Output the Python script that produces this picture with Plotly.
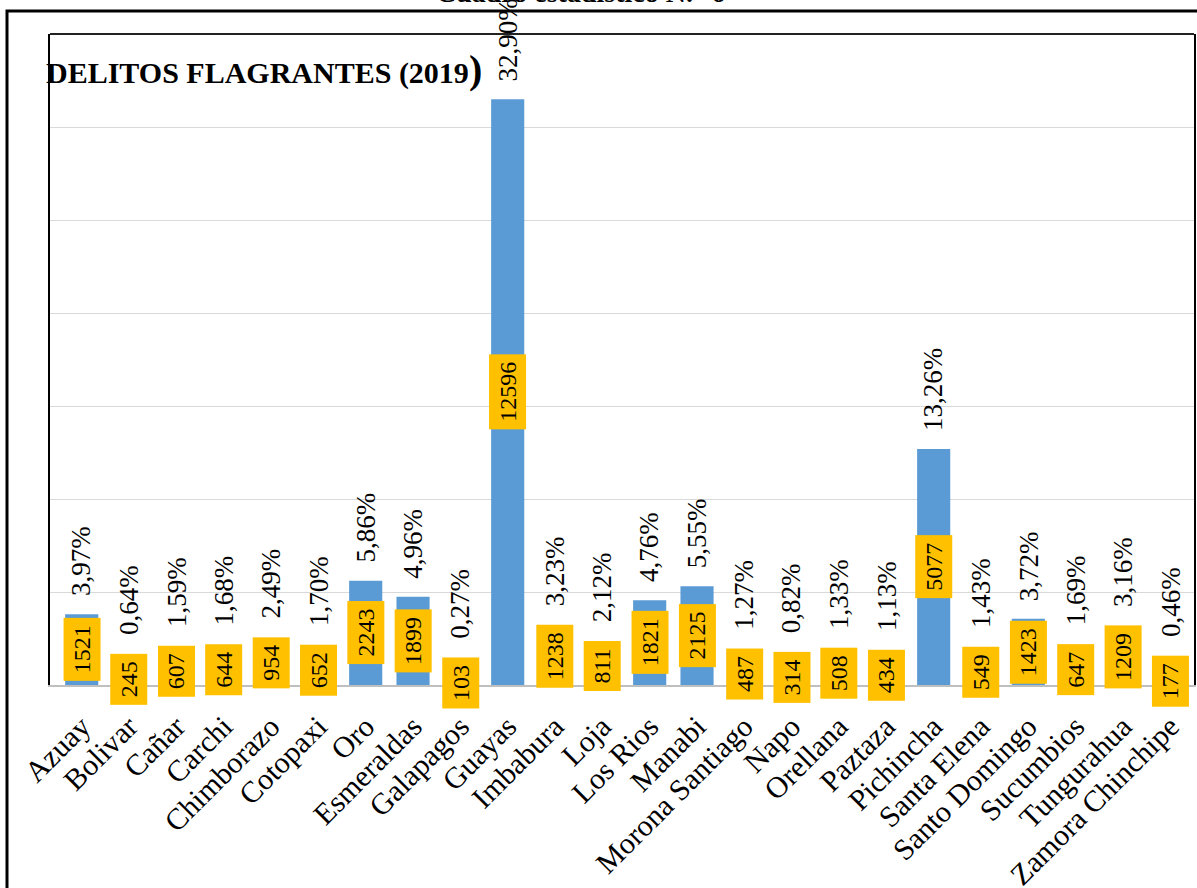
import plotly.graph_objects as go

provincias = [
    "Azuay", "Bolivar", "Cañar", "Carchi", "Chimborazo", "Cotopaxi", "Oro",
    "Esmeraldas", "Galapagos", "Guayas", "Imbabura", "Loja", "Los Rios",
    "Manabi", "Morona Santiago", "Napo", "Orellana", "Paztaza", "Pichincha",
    "Santa Elena", "Santo Domingo", "Sucumbios", "Tungurahua", "Zamora Chinchipe",
]
delitos = [
    1521, 245, 607, 644, 954, 652, 2243, 1899, 103, 12596, 1238, 811, 1821,
    2125, 487, 314, 508, 434, 5077, 549, 1423, 647, 1209, 177,
]
porcentajes = [
    "3,97%", "0,64%", "1,59%", "1,68%", "2,49%", "1,70%", "5,86%", "4,96%",
    "0,27%", "32,90%", "3,23%", "2,12%", "4,76%", "5,55%", "1,27%", "0,82%",
    "1,33%", "1,13%", "13,26%", "1,43%", "3,72%", "1,69%", "3,16%", "0,46%",
]
titulo = "DELITOS FLAGRANTES (2019"
encabezado = "Cuadro estadístico N.° 6"

# page geometry (px)
W, H = 1197, 888
L, R, T, B = 50, 3, 34, 203
PW, PH = W - L - R, H - T - B
Y_MAX = 14000
SERIF = "Liberation Serif, Times New Roman, serif"
AZUL = "#5B9BD5"
AMARILLO = "#FFC000"


def px_x(px):
    return (px - L) / PW


def px_y(px):
    return 1 - (px - T) / PH


fig = go.Figure(
    go.Bar(
        x=provincias,
        y=delitos,
        marker=dict(color=AZUL, line=dict(width=0)),
        width=0.7,
        hoverinfo="skip",
    )
)

unit_px = PH / Y_MAX
digit_px = 11.5
box_pad = 9
annotations = []
for prov, val, pct in zip(provincias, delitos, porcentajes):
    # yellow value box centred on the bar
    annotations.append(dict(
        x=prov, y=val / 2, text=str(val), textangle=-90, showarrow=False,
        font=dict(family=SERIF, size=24, color="black"),
        bgcolor=AMARILLO, borderpad=7, height=22,
        xanchor="center", yanchor="middle",
    ))
    # percentage label above bar (pushed up when the box sticks out)
    h = val * unit_px
    box_top = h / 2 + (len(str(val)) * digit_px + 2 * box_pad) / 2
    shift = 16 + max(0, box_top - h)
    annotations.append(dict(
        x=prov, y=val, text=pct, textangle=-90, showarrow=False,
        font=dict(family=SERIF, size=27, color="black"),
        xanchor="center", yanchor="bottom", yshift=shift,
    ))

annotations.append(dict(
    xref="paper", yref="paper", x=px_x(44), y=px_y(70),
    text="<b>" + titulo + "</b><span style='font-size:40px'><b>)</b></span>",
    showarrow=False, xanchor="left", yanchor="middle",
    font=dict(family=SERIF, size=30, color="black"),
))
annotations.append(dict(
    xref="paper", yref="paper", x=px_x(580), y=px_y(10),
    text="<b>" + encabezado + "</b>", showarrow=False,
    xanchor="center", yanchor="bottom",
    font=dict(family=SERIF, size=28, color="black"),
))

fig.update_layout(
    width=W, height=H,
    margin=dict(l=L, r=R, t=T, b=B),
    paper_bgcolor="white", plot_bgcolor="white",
    showlegend=False, bargap=0.3,
    annotations=annotations,
    shapes=[
        # outer frame
        dict(type="rect", xref="paper", yref="paper",
             x0=px_x(7), x1=px_x(W + 10), y0=px_y(H + 10), y1=px_y(11),
             line=dict(color="black", width=3)),
        # plot area top border
        dict(type="line", xref="paper", yref="paper",
             x0=0, x1=1, y0=1, y1=1, line=dict(color="#222222", width=2)),
    ],
)

fig.update_xaxes(
    range=[-0.67, 23.5], automargin=False,
    showline=True, linecolor="#bfbfbf", linewidth=2,
    ticks="", tickangle=-45,
    tickfont=dict(family=SERIF, size=30, color="black"),
    ticklabelstandoff=10,
)
fig.update_yaxes(
    range=[0, Y_MAX], dtick=2000, automargin=False,
    showticklabels=False, ticks="",
    gridcolor="#d9d9d9", gridwidth=1, zeroline=False,
    showline=True, linecolor="black", linewidth=2, mirror=True,
)

fig.write_html(
    "out.html",
    config={"displayModeBar": False},
    post_script="document.body.style.margin='0';",
)
